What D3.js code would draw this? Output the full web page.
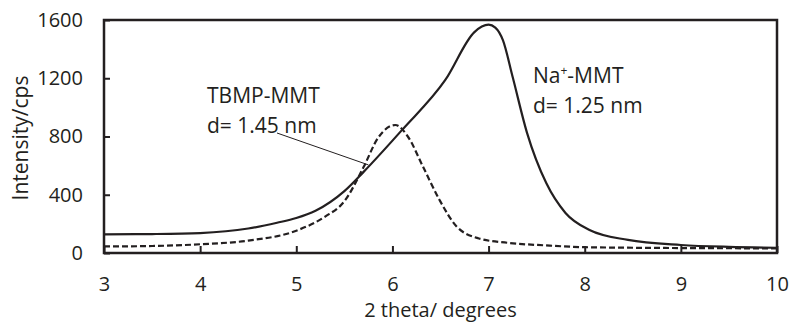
<!DOCTYPE html>
<html>
<head>
<meta charset="utf-8">
<script src="https://cdn.jsdelivr.net/npm/d3@7"></script>
<style>
  body { margin: 0; background: #fff; }
  svg text { font-family: "Open Sans", sans-serif; fill: #231f20; }
</style>
</head>
<body>
<svg id="chart" width="789" height="328"></svg>
<script>
var xTicks = [3, 4, 5, 6, 7, 8, 9, 10];
var yTicks = [0, 400, 800, 1200, 1600];

// Na+-MMT (solid)
var naTheta = [3, 3.5, 4, 4.5, 4.8, 5, 5.2, 5.5, 5.7, 6.1, 6.55, 6.85, 6.93, 7.0, 7.07, 7.15, 7.25, 7.4, 7.6, 7.8, 8.05, 8.45, 9, 9.5, 10];
var naInt =   [128, 130, 137, 168, 208, 240, 290, 425, 557, 845, 1188, 1515, 1555, 1568, 1548, 1460, 1210, 825, 480, 275, 158, 90, 55, 42, 36];

// TBMP-MMT (dashed)
var tbTheta = [3, 3.5, 4, 4.5, 5, 5.3, 5.5, 5.7, 5.85, 6.03, 6.16, 6.32, 6.49, 6.67, 6.9, 7.2, 7.6, 8, 9, 10];
var tbInt =   [45, 48, 60, 85, 153, 250, 355, 590, 790, 879, 800, 590, 364, 180, 100, 70, 52, 40, 34, 32];

var margin = {top: 20, right: 12, bottom: 75, left: 104},
    width = 789, height = 328;

var x = d3.scaleLinear().domain([3, 10]).range([margin.left, width - margin.right]);
var y = d3.scaleLinear().domain([0, 1600]).range([height - margin.bottom, margin.top]);

var svg = d3.select("#chart");

var line = d3.line().x(d => x(d[0])).y(d => y(d[1])).curve(d3.curveMonotoneX);

svg.append("path")
    .datum(d3.zip(tbTheta, tbInt))
    .attr("fill", "none")
    .attr("stroke", "#231f20")
    .attr("stroke-width", 2.2)
    .attr("stroke-dasharray", "6,3")
    .attr("d", line);

svg.append("path")
    .datum(d3.zip(naTheta, naInt))
    .attr("fill", "none")
    .attr("stroke", "#231f20")
    .attr("stroke-width", 2.2)
    .attr("d", line);

// frame
svg.append("rect")
    .attr("x", x(3)).attr("y", y(1600))
    .attr("width", x(10) - x(3)).attr("height", y(0) - y(1600))
    .attr("fill", "none").attr("stroke", "#231f20").attr("stroke-width", 2.5);

var xAxis = svg.append("g")
    .attr("transform", `translate(0,${y(0)})`)
    .call(d3.axisBottom(x).tickValues(xTicks).tickFormat(d3.format("d"))
        .tickSize(-7).tickPadding(24).tickSizeOuter(0));
xAxis.select(".domain").remove();

var yAxis = svg.append("g")
    .attr("transform", `translate(${x(3)},0)`)
    .call(d3.axisLeft(y).tickValues(yTicks).tickFormat(d3.format("d"))
        .tickSize(-6).tickPadding(21).tickSizeOuter(0));
yAxis.select(".domain").remove();

svg.selectAll(".tick line").attr("stroke", "#231f20").attr("stroke-width", 2);
svg.selectAll(".tick text").style("font-size", "20px").attr("fill", "#231f20");

svg.append("text")
    .attr("x", x(6.5)).attr("y", 317)
    .attr("text-anchor", "middle")
    .style("font-size", "20px")
    .text("2 theta/ degrees");

svg.append("text")
    .attr("transform", "translate(28,138) rotate(-90)")
    .attr("text-anchor", "middle")
    .style("font-size", "21px")
    .text("Intensity/cps");

// annotations
var ann = svg.append("g").style("font-size", "21px");
ann.append("text").attr("x", 207).attr("y", 103).text("TBMP-MMT");
ann.append("text").attr("x", 207).attr("y", 133).text("d= 1.45 nm");
ann.append("text").attr("x", 533).attr("y", 83)
    .call(t => {
        t.append("tspan").text("Na");
        t.append("tspan").attr("dy", -8).style("font-size", "12px").text("+");
        t.append("tspan").attr("dy", 8).text("-MMT");
    });
ann.append("text").attr("x", 533).attr("y", 113).text("d= 1.25 nm");

svg.append("line")
    .attr("x1", 277).attr("y1", 133)
    .attr("x2", x(5.75)).attr("y2", y(605))
    .attr("stroke", "#231f20").attr("stroke-width", 1);
</script>
</body>
</html>
